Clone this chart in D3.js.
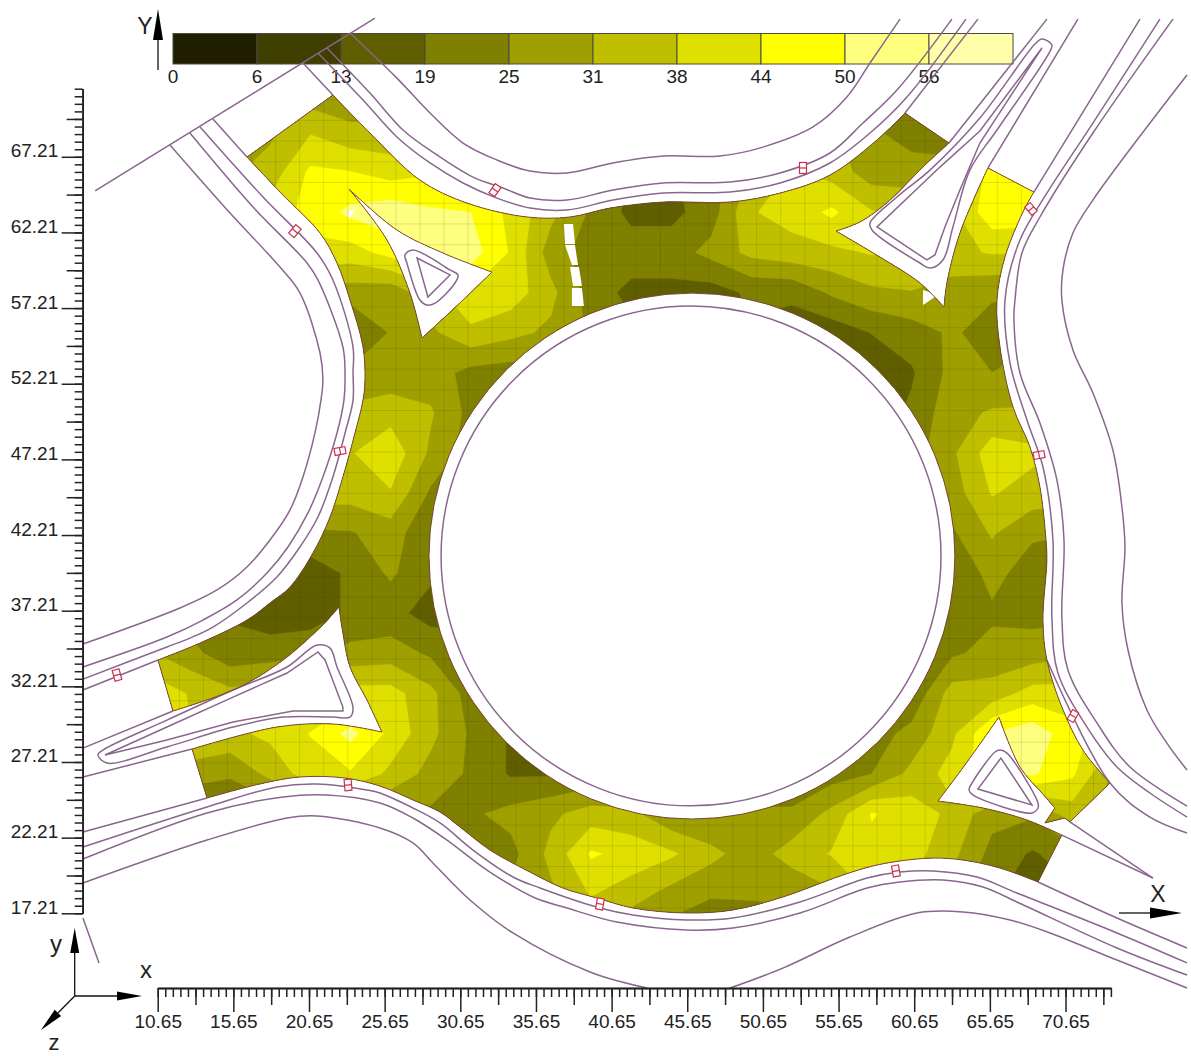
<!DOCTYPE html>
<html>
<head>
<meta charset="utf-8">
<script src="https://cdn.jsdelivr.net/npm/d3@7"></script>
<style>
  html, body { margin: 0; background: #fff; }
  text { font-family: "Liberation Sans", Arial, sans-serif; fill: #222; }
</style>
</head>
<body>
<div id="chart"></div>
<script>
'use strict'

// legend levels
const levelBreaks = [0, 6.25, 12.5, 18.75, 25, 31.25, 37.5, 43.75, 50, 56.25]
const levelLabels = ['0', '6', '13', '19', '25', '31', '38', '44', '50', '56']
const levelColors = ['#1f1f00', '#3f3f00', '#5f5f00', '#7f7f00', '#9f9f00', '#bfbf00', '#dfdf00', '#ffff00', '#ffff7f', '#ffffaa']

// tick labels
const xMajor = [10.65, 15.65, 20.65, 25.65, 30.65, 35.65, 40.65, 45.65, 50.65, 55.65, 60.65, 65.65, 70.65]
const yMajor = [17.21, 22.21, 27.21, 32.21, 37.21, 42.21, 47.21, 52.21, 57.21, 62.21, 67.21]

// values sampled on a regular grid, read by eye; cells off the road repeat the nearest road value
const gridStartX = 10.14
const gridStartY = 71.49
const gridStep = 2.65
const cellRows = [
  [30,30,30,30,27,26,26,30,34,34,30,24,20,20,22,26,30,30,22,18,18,40,47,47,47],
  [30,30,30,30,37,33,33,38,42,42,33,24,18,18,22,30,36,32,26,22,22,46,48,48,48],
  [30,30,30,34,45,44,41,43,46,44,34,24,18,18,22,32,38,35,28,28,27,48,48,48,48],
  [40,40,40,40,46,51.5,54,51,50,42,33,24,17,17,22,37,40,45,38,36,36,48,47,45,45],
  [42,42,42,42,42,41,46,52,53,43,28,22,22,22,27,33,35,36,38,36,36,38,38,38,38],
  [30,30,30,30,30,28,27,35,43,41,33,22,17,17,16,20,20,26,30,31,28,26,25,25,25],
  [28,28,28,28,26,18,25.5,30,36,33,30,24,20,18,18,18,16,15,19,22,26,22,24,24,24],
  [27,27,27,27,27,26,27,28,23,22,22,20,18,18,16,14,13,13,14,18,27,25,27,27,27],
  [33,33,33,33,33,33,35,32,23,22,22,20,18,18,16,16,16,16,15,20,29,32,32,32,32],
  [37,37,37,37,37,37,42,30,22,22,20,20,20,20,20,20,20,20,20,22,30,41,39,37,37],
  [34,34,34,34,34,34,37,24,22,20,20,20,20,20,20,20,20,20,20,22,28,38,35,34,34],
  [26,26,26,26,24,24.5,28,20,20,20,20,20,20,20,20,20,20,20,20,20,24,32,26,25,25],
  [15,15,15,15,15,20,26,20,20,20,20,20,20,20,20,20,20,20,20,20,20,27,22,22,22],
  [22,22,18,15,15,20,21,16,18,18,18,18,18,18,18,18,18,18,18,18,20,24,23,23,23],
  [32,27,21,22,24,27,28,24,20,20,20,20,20,20,20,20,20,20,20,20,24,27,28,30,30],
  [42,37,33,35,38,40,40,33,22,20,20,20,20,20,20,20,20,20,20,20,34,34,40,40,40],
  [40,38,36,39,44,52,42,33,24,18,20,20,20,20,20,20,20,20,22,27,36,50,54,46,40],
  [28,28,26,33,41,43,36,29,24,18,18,20,20,20,20,20,20,22,25,33,40,48,51,45,30],
  [18,18,18,20,24,24,24,24,24,27,30,34,33,26,25,26,26,33,44.2,41,36,27,26,34,30],
  [24,24,24,24,24,24,24,24,24,23,33,44.6,41.5,38.5,33,28,34,38,42,40,33,23,18,22,22],
  [26,26,26,26,26,26,26,26,26,26,30,38,34,29,26,26,26,30,38,36,28,20,15,18,18],
  [26,26,26,26,26,26,26,26,26,26,28,30,26,22,17,20,22,26,32,30,26,20,15,18,18]
]

// edges of the surveyed surface
const northEdge = [[22.23,71.29],[24.68,68.78],[27.98,65.67],[31.09,64.15],[35.06,63.23],[37.90,63.23],[40.54,63.82],[44.05,64.22],[48.47,64.22],[51.78,64.81],[55.08,66.00],[58.19,68.32],[60.04,70.10]]
const neIslandWest = [[62.95,68.12],[61.23,66.53],[58.91,64.22],[57.06,62.90],[55.48,62.30]]
const neIslandSouth = [[55.48,62.30],[58.39,60.58],[61.03,58.87],[62.62,57.28]]
const neWedge = [[62.62,57.28],[62.81,58.87],[63.67,62.17],[65.52,66.47]]
const eastEdge = [[68.56,64.88],[67.84,63.56],[66.65,60.59],[66.12,57.74],[66.32,54.64],[67.18,50.67],[68.30,48.03],[68.96,45.38],[69.36,41.88],[69.42,40.56],[69.16,36.59],[69.42,33.95],[70.41,30.84],[71.80,28.00],[73.59,25.82]]
const seTail = [[73.59,25.82],[70.94,23.25],[70.61,23.51],[69.29,23.18],[69.95,24.17]]
const seIslandEast = [[69.95,24.17],[69.09,25.16],[67.64,26.88],[66.25,30.18]]
const seIslandWest = [[66.25,30.18],[64.00,27.01],[62.22,24.63]]
const seIslandSouth = [[62.22,24.63],[65.19,24.17],[68.10,23.38],[70.41,22.38]]
const southEdge = [[68.83,19.28],[66.32,20.20],[63.87,20.73],[61.89,20.86],[59.71,20.67],[57.92,20.34],[55.94,19.74],[51.97,18.29],[48.67,17.43],[45.63,17.23],[42.06,17.56],[39.68,18.22],[37.43,18.88],[35.25,19.94],[32.61,21.39],[30.63,22.91],[29.31,23.90],[27.52,24.70],[25.34,25.62],[23.03,26.15],[20.05,26.22],[17.41,25.76],[13.91,24.83]]
const swIslandSouth = [[12.92,28.07],[18.53,29.52],[22.23,29.72],[25.47,29.19]]
const swIslandEast = [[25.47,29.19],[24.48,31.31],[23.36,33.49],[22.89,35.73],[22.63,37.45]]
const swIslandNorth = [[21.71,36.40],[19.20,34.15],[16.09,32.17],[11.66,30.58]]
const westEdge = [[10.67,33.95],[13.45,35.07],[16.55,36.59],[18.07,37.72],[19.39,38.77],[20.91,41.02],[22.04,43.40],[22.89,46.05],[23.69,48.95],[24.22,51.13],[24.35,52.46],[24.22,54.64],[23.36,57.74],[22.50,60.19],[21.38,62.17],[18.93,64.68],[16.55,67.19]]
const nwIslandNorth = [[23.29,65.08],[26.46,62.37],[29.51,60.85],[32.74,59.59]]
const nwIslandEast = [[32.74,59.59],[30.83,57.74],[28.12,55.23]]
const nwIslandWest = [[28.12,55.23],[27.32,58.21],[25.80,61.71],[23.29,65.08]]

// central island
const discCentre = [45.96, 40.82]
const discRadius = 17.38
const ringCentre = [45.90, 40.83]
const ringRadius = 16.52

// gaps in the surface
const gaps = [
  [[37.50,62.77],[38.10,62.77],[38.23,61.44],[37.57,61.44]],
  [[37.57,61.38],[38.23,61.38],[38.43,60.06],[38.03,60.06]],
  [[37.90,59.92],[38.49,59.92],[38.69,58.67],[38.10,58.67]],
  [[38.03,58.54],[38.69,58.54],[38.82,57.35],[38.03,57.35]],
  [[61.23,58.40],[61.23,57.41],[62.22,58.07]],
  [[23.29,63.69],[23.29,63.03],[23.69,63.69]]
]

// straight continuations of the edges, out past the surface
const straightRoads = [
  [[6.51,64.95],[25.01,76.38]],
  [[20.25,73.41],[22.23,71.29]],
  [[60.04,70.10],[64.86,76.31]],
  [[62.95,68.12],[69.42,76.31]],
  [[65.52,66.47],[71.47,76.31]],
  [[68.56,64.88],[75.57,76.31]],
  [[14.30,69.71],[16.55,67.19]],
  [[5.71,31.97],[10.67,33.95]],
  [[5.71,28.13],[11.66,30.58]],
  [[5.71,26.22],[12.92,28.07]],
  [[5.71,22.58],[13.91,24.83]],
  [[70.94,23.25],[76.43,19.54]],
  [[70.41,22.38],[76.43,19.54]],
  [[5.71,16.90],[6.77,13.93]]
]

// lane lines and road borders
const curvedRoads = [
  [[21.24,74.07],[24.22,70.96],[26.46,68.52],[28.65,66.80],[30.83,65.48],[33.07,64.48],[35.25,63.82],[37.70,63.69],[40.74,64.35],[44.05,64.81],[48.47,64.88],[51.78,65.48],[55.08,66.80],[57.73,68.78],[60.17,71.16],[64.07,76.31]],
  [[21.84,74.40],[24.68,71.42],[26.86,68.98],[29.11,67.33],[31.49,65.87],[33.47,65.15],[35.25,64.48],[37.70,64.35],[40.74,65.01],[44.05,65.48],[48.47,65.54],[51.78,66.14],[55.08,67.46],[57.26,69.44],[59.51,71.62],[63.14,76.31]],
  [[23.36,75.39],[26.46,72.41],[28.65,70.10],[30.83,68.12],[33.07,67.00],[35.25,66.27],[37.70,66.14],[40.74,66.80],[44.05,67.26],[47.81,67.26],[50.65,67.85],[53.96,69.18],[56.20,71.16],[57.73,73.41],[59.71,76.31]],
  [[13.45,69.18],[17.61,64.55],[21.18,60.85],[22.23,59.07],[23.56,54.64],[23.56,52.92],[23.56,51.13],[23.03,48.95],[22.23,46.05],[21.24,43.40],[20.05,41.42],[18.53,39.44],[16.55,37.72],[14.30,36.13],[12.78,35.40],[11.26,34.81],[5.71,32.69]],
  [[12.78,68.78],[16.95,63.89],[20.52,60.19],[21.24,59.07],[22.89,54.64],[23.03,52.92],[22.96,51.13],[22.50,48.95],[21.57,46.05],[20.58,43.67],[19.26,41.42],[17.87,39.70],[15.89,37.92],[13.64,36.59],[11.26,35.47],[5.71,33.49]],
  [[11.46,67.99],[15.43,63.49],[18.73,59.92],[20.05,58.21],[21.38,54.24],[21.57,52.46],[21.44,51.13],[21.04,48.95],[20.25,46.05],[19.39,43.86],[18.07,41.88],[16.55,40.10],[14.57,38.58],[12.12,37.39],[5.71,35.01]],
  [[5.71,21.59],[13.91,24.24],[18.53,25.56],[21.18,25.76],[24.48,25.36],[25.34,25.16],[27.52,24.17],[29.31,23.18],[31.49,21.39],[34.13,19.61],[35.92,18.88],[39.88,17.56],[42.06,17.10],[45.63,16.77],[48.67,16.90],[53.10,17.96],[57.53,19.54],[59.71,19.94],[61.89,20.01],[64.80,19.61],[67.44,18.55],[74.05,15.91],[78.68,13.93]],
  [[5.71,20.80],[13.91,23.84],[18.93,24.90],[21.84,25.03],[25.34,24.50],[27.52,23.51],[29.77,22.05],[32.41,20.07],[35.45,18.29],[37.70,17.56],[41.00,16.63],[45.63,16.11],[48.67,16.24],[53.10,17.23],[57.53,18.88],[59.71,19.28],[62.55,19.41],[65.19,18.95],[67.44,17.96],[74.05,14.92],[78.68,13.13]],
  [[5.71,19.21],[13.91,22.05],[19.20,23.51],[21.18,23.64],[25.34,22.85],[27.52,21.86],[28.84,20.54],[31.29,18.09],[34.13,15.91],[39.22,13.33],[42.99,12.27]],
  [[48.47,12.27],[51.97,13.59],[56.40,15.64],[60.83,17.23],[63.87,17.30],[66.98,16.77],[69.62,15.91],[74.05,14.12],[78.68,12.27]],
  [[76.89,76.31],[72.46,69.44],[69.42,64.81],[67.64,61.71],[66.65,57.74],[66.98,53.58],[68.10,49.81],[69.16,46.71],[69.82,41.88],[69.75,36.79],[70.15,33.09],[72.07,29.52],[74.05,26.88],[76.23,25.16],[78.68,23.57]],
  [[77.75,76.31],[72.46,68.78],[68.96,63.23],[67.77,60.85],[67.31,57.74],[67.24,56.42],[67.64,52.92],[68.96,49.61],[70.08,45.85],[70.55,41.88],[70.41,36.79],[70.81,33.29],[72.73,29.79],[74.91,26.88],[78.68,24.30]],
  [[78.68,72.61],[72.46,64.35],[71.14,62.17],[70.48,59.73],[70.41,57.74],[71.14,54.44],[72.46,51.60],[73.78,47.83],[74.38,44.06],[74.58,41.42],[74.38,37.72],[74.78,34.61],[76.03,30.65],[77.35,28.46],[78.68,26.68]],
  [[69.42,33.95],[73.59,25.82],[76.23,23.57],[78.68,22.52]],
  [[68.83,19.28],[74.05,16.90],[78.68,14.92]]
]

// the kerbs inside the splitter islands
const roundedLoops = [
  [[69.09,75.00],[69.75,74.60],[69.49,73.94],[66.12,68.98],[64.33,66.33],[63.21,62.57],[62.55,60.39],[61.69,59.86],[61.03,60.19],[57.86,62.37],[57.73,62.83],[59.51,64.55],[61.69,66.33],[64.99,69.77],[68.63,74.66]],
  [[27.52,61.05],[29.97,59.73],[30.50,59.40],[30.30,58.87],[28.98,57.54],[28.45,57.41],[27.98,57.74],[27.12,60.19],[26.99,60.72]],
  [[66.32,28.00],[66.78,27.80],[68.83,24.50],[68.83,24.17],[68.43,23.84],[64.53,25.03],[64.27,25.36],[64.47,25.82],[65.99,27.87]],
  [[6.70,27.67],[7.03,28.00],[11.26,29.98],[15.63,31.97],[19.20,33.49],[21.18,34.94],[22.04,34.74],[22.50,33.49],[23.56,30.78],[23.36,30.18],[22.23,30.18],[18.93,30.18],[15.63,29.52],[11.26,28.20],[7.30,27.14]]
]
const sharpLoops = [
  [[69.09,74.40],[64.99,68.91],[62.35,66.53],[58.19,62.57],[61.49,60.39],[62.02,60.72],[62.68,62.57],[63.67,65.01],[64.99,68.12]],
  [[27.79,60.52],[29.97,59.40],[28.51,57.94]],
  [[66.38,27.47],[68.43,24.37],[64.86,25.42]],
  [[7.17,27.67],[11.26,29.52],[15.63,31.50],[19.20,33.09],[21.24,34.48],[21.71,33.95],[22.89,30.84],[22.89,30.58],[19.59,30.58],[15.63,29.85],[11.26,28.66]]
]

// detectors
const detectorX = [32.94, 53.30, 68.37, 68.90, 71.14, 59.44, 39.88, 23.23, 7.96, 22.70, 19.72]
const detectorY = [65.01, 66.47, 63.76, 47.50, 30.25, 20.01, 17.83, 25.69, 32.96, 47.76, 62.30]
const detectorAngle = [35, 0, -40, 80, 30, -10, 10, -5, -15, 80, 40]

const svg = d3.select('#chart')
  .append('svg')
    .attr('width', 1191)
    .attr('height', 1056)
    .style('display', 'block')

const x = d3.scaleLinear().domain([10.65, 73.65]).range([157.7, 1110.9])
const y = d3.scaleLinear().domain([17.21, 71.71]).range([913.3, 88.7])

const curved = d3.line().x(d => x(d[0])).y(d => y(d[1])).curve(d3.curveCatmullRom.alpha(0.5))
const straight = d3.line().x(d => x(d[0])).y(d => y(d[1]))
const closedRound = d3.line().x(d => x(d[0])).y(d => y(d[1])).curve(d3.curveCatmullRomClosed.alpha(0.5))
const closedSharp = d3.line().x(d => x(d[0])).y(d => y(d[1])).curve(d3.curveLinearClosed)

// circle through the scales
const circlePath = (centre, radius) => {
  const p = d3.path()
  const r = x(centre[0] + radius) - x(centre[0])
  p.moveTo(x(centre[0]) + r, y(centre[1]))
  p.arc(x(centre[0]), y(centre[1]), r, 0, Math.PI * 2)
  p.closePath()
  return p.toString()
}

// join the edges into one outline, each next edge continues the last
const joinEdges = parts => parts.map((d, i) => i === 0 ? d : d.replace(/^M/, 'L')).join('')

const outline = joinEdges([
  curved(northEdge), curved(neIslandWest), curved(neIslandSouth), curved(neWedge), curved(eastEdge),
  straight(seTail), curved(seIslandEast), curved(seIslandWest), curved(seIslandSouth), curved(southEdge),
  curved(swIslandSouth), curved(swIslandEast), curved(swIslandNorth), curved(westEdge)
]) + 'Z'
const nwHole = joinEdges([curved(nwIslandNorth), curved(nwIslandEast), curved(nwIslandWest)]) + 'Z'
const discHole = circlePath(discCentre, discRadius)

// legend
const legendX = d3.scaleLinear().domain([0, levelColors.length]).range([173, 1013])
const legend = svg.append('g')
legend.selectAll('rect')
  .data(levelColors)
  .join('rect')
    .attr('x', (d, i) => legendX(i))
    .attr('y', 33.5)
    .attr('width', (d, i) => legendX(i + 1) - legendX(i))
    .attr('height', 30.5)
    .attr('fill', d => d)
    .attr('stroke', '#4a4a40')
    .attr('stroke-width', 1)
legend.selectAll('text')
  .data(levelLabels)
  .join('text')
    .attr('x', (d, i) => legendX(i))
    .attr('y', 83)
    .attr('text-anchor', 'middle')
    .attr('font-size', 19)
    .text(d => d)

// contour bands, clipped to the road surface
svg.append('clipPath')
    .attr('id', 'surface')
  .append('path')
    .attr('d', outline + nwHole + discHole)
    .attr('clip-rule', 'evenodd')

const bands = d3.contours()
  .size([cellRows[0].length, cellRows.length])
  .thresholds(levelBreaks)(cellRows.flat())

const gridPath = d3.geoPath(d3.geoTransform({
  point(gx, gy) {
    this.stream.point(x(gridStartX + (gx - 0.5) * gridStep), y(gridStartY - (gy - 0.5) * gridStep))
  }
}))

const surface = svg.append('g').attr('clip-path', 'url(#surface)')
surface.selectAll('path')
  .data(bands)
  .join('path')
    .attr('d', gridPath)
    .attr('fill', (d, i) => levelColors[i])
    .attr('stroke', (d, i) => levelColors[i])
    .attr('stroke-width', 0.4)

// measurement mesh
const meshX = d3.range(-10, 32).map(i => 27.98 + i * 1.59)
const meshY = d3.range(-28, 14).map(i => 54.55 + i * 1.37)
surface.selectAll('.mesh-x')
  .data(meshX)
  .join('line')
    .attr('class', 'mesh-x')
    .attr('x1', d => x(d)).attr('x2', d => x(d))
    .attr('y1', 80).attr('y2', 920)
surface.selectAll('.mesh-y')
  .data(meshY)
  .join('line')
    .attr('class', 'mesh-y')
    .attr('x1', 150).attr('x2', 1115)
    .attr('y1', d => y(d)).attr('y2', d => y(d))
surface.selectAll('line')
  .attr('stroke', '#3c3c00')
  .attr('stroke-opacity', 0.16)
  .attr('stroke-width', 0.9)

// gaps in the surface
svg.append('g').selectAll('path')
  .data(gaps)
  .join('path')
    .attr('d', closedSharp)
    .attr('fill', '#fff')

// road lines
const roads = svg.append('g')
  .attr('fill', 'none')
  .attr('stroke', '#8a668f')
  .attr('stroke-width', 1.5)
roads.selectAll('.straight').data(straightRoads).join('path').attr('class', 'straight').attr('d', straight)
roads.selectAll('.curved').data(curvedRoads).join('path').attr('class', 'curved').attr('d', curved)
roads.selectAll('.round').data(roundedLoops).join('path').attr('class', 'round').attr('d', closedRound)
roads.selectAll('.sharp').data(sharpLoops).join('path').attr('class', 'sharp').attr('d', closedSharp)
roads.append('path').attr('d', circlePath(ringCentre, ringRadius))

// surface outline
svg.append('path')
  .attr('d', outline + nwHole + discHole)
  .attr('fill', 'none')
  .attr('stroke', '#7d4a3e')
  .attr('stroke-width', 1)

// detectors
const detectors = svg.append('g')
  .selectAll('g')
  .data(detectorX)
  .join('g')
    .attr('transform', (d, i) => `translate(${x(d)},${y(detectorY[i])}) rotate(${detectorAngle[i]})`)
    .attr('fill', 'none')
    .attr('stroke', '#c8304e')
    .attr('stroke-width', 1.2)
detectors.append('rect').attr('x', -3.5).attr('y', -5.5).attr('width', 7).attr('height', 11).attr('fill', '#fff')
detectors.append('line').attr('x1', -3.5).attr('x2', 3.5).attr('y1', 0).attr('y2', 0)

// axes
const styleAxis = g => {
  g.selectAll('path, line').attr('stroke', '#222').attr('stroke-width', 1.5)
  g.selectAll('text').attr('font-size', 19).attr('fill', '#222')
}

const stepsFrom = (start, step, end) => d3.range(0, Math.round((end - start) / step) + 1).map(i => start + i * step)
const xMinor = stepsFrom(10.65, 0.5, 73.65)
const xMid = xMajor.map(d => d + 2.5).filter(d => d < 73.65)
const yMinor = stepsFrom(17.21, 0.5, 71.71)
const yMid = yMajor.map(d => d + 2.5).filter(d => d < 71.71)

const addBottom = (values, size, labelled) => {
  svg.append('g')
    .attr('transform', 'translate(0,988)')
    .call(d3.axisBottom(x).tickValues(values).tickSizeInner(size).tickSizeOuter(0).tickPadding(3)
      .tickFormat(labelled ? d => d.toFixed(2) : ''))
    .call(styleAxis)
}
addBottom(xMinor, 9, false)
addBottom(xMid, 17, false)
addBottom(xMajor, 24, true)

const addLeft = (values, size, labelled) => {
  svg.append('g')
    .attr('transform', 'translate(82.7,0)')
    .call(d3.axisLeft(y).tickValues(values).tickSizeInner(size).tickSizeOuter(0).tickPadding(3.5)
      .tickFormat(labelled ? d => d.toFixed(2) : ''))
    .call(styleAxis)
    .call(g => g.selectAll('text').attr('dy', 0))
}
addLeft(yMinor, 8, false)
addLeft(yMid, 16, false)
addLeft(yMajor, 21, true)

// direction arrows
const arrow = (x1, y1, x2, y2, headLength, headHalf) => {
  const angle = Math.atan2(y2 - y1, x2 - x1) * 180 / Math.PI
  const len = Math.hypot(x2 - x1, y2 - y1)
  const g = svg.append('g').attr('transform', `translate(${x1},${y1}) rotate(${angle})`)
  g.append('line').attr('x2', len - headLength).attr('stroke', '#111').attr('stroke-width', 1.3)
  g.append('path')
    .attr('d', `M${len},0L${len - headLength},${-headHalf}L${len - headLength},${headHalf}Z`)
    .attr('fill', '#000')
}
arrow(158, 70, 158, 9, 31, 5)
arrow(1119, 913, 1182, 913, 32, 5.5)
arrow(74.7, 996, 74.7, 928, 25, 4.5)
arrow(74.7, 996, 142, 996, 25, 4.5)
arrow(74.7, 996, 41, 1030, 24, 4.5)

const label = (text, px, py, size) => svg.append('text')
  .attr('x', px).attr('y', py)
  .attr('text-anchor', 'middle')
  .attr('font-size', size)
  .text(text)
label('Y', 145, 34, 23)
label('X', 1158, 902, 23)
label('y', 56, 952, 24)
label('x', 146, 978, 24)
label('z', 54, 1050, 22)
</script>
</body>
</html>
